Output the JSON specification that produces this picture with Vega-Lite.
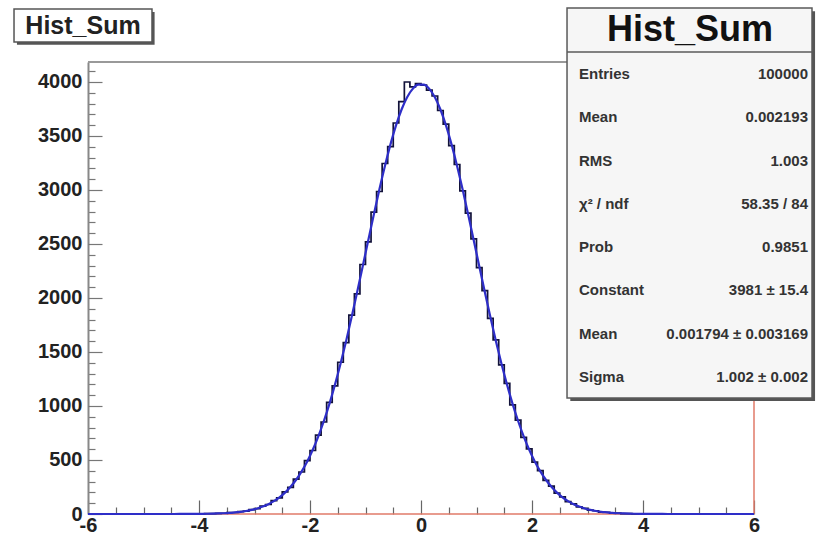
{
  "$schema": "https://vega.github.io/schema/vega-lite/v6.json",
  "width": 666,
  "height": 452,
  "autosize": {"type": "none"},
  "padding": {"left": 88, "top": 62, "right": 73, "bottom": 22},
  "background": "#ffffff",
  "config": {
    "view": {"stroke": null},
    "axis": {"labelFont": "Liberation Sans", "labelFontWeight": "bold", "labelFontSize": 20, "labelColor": "#222222", "grid": false, "title": null}
  },
  "datasets": {
    "one": [{}],
    "hist": [
      {"x": -6, "n": 0, "f": 0},
      {"x": -5.95, "n": 0, "f": 0}, {"x": -5.85, "n": 0, "f": 0}, {"x": -5.75, "n": 0, "f": 0}, {"x": -5.65, "n": 0, "f": 0},
      {"x": -5.55, "n": 0, "f": 0}, {"x": -5.45, "n": 0, "f": 0}, {"x": -5.35, "n": 0, "f": 0}, {"x": -5.25, "n": 0, "f": 0},
      {"x": -5.15, "n": 0, "f": 0}, {"x": -5.05, "n": 0, "f": 0}, {"x": -4.95, "n": 0, "f": 0}, {"x": -4.85, "n": 0, "f": 0},
      {"x": -4.75, "n": 0, "f": 0}, {"x": -4.65, "n": 0, "f": 0}, {"x": -4.55, "n": 0, "f": 0}, {"x": -4.45, "n": 1, "f": 0.2},
      {"x": -4.35, "n": 0, "f": 0.3}, {"x": -4.25, "n": 0, "f": 0.5}, {"x": -4.15, "n": 1, "f": 0.7}, {"x": -4.05, "n": 0, "f": 1.1},
      {"x": -3.95, "n": 2, "f": 1.6}, {"x": -3.85, "n": 3, "f": 2.4}, {"x": -3.75, "n": 4, "f": 3.5}, {"x": -3.65, "n": 6, "f": 5},
      {"x": -3.55, "n": 7, "f": 7}, {"x": -3.45, "n": 12, "f": 10}, {"x": -3.35, "n": 14, "f": 15}, {"x": -3.25, "n": 22, "f": 20},
      {"x": -3.15, "n": 26, "f": 28}, {"x": -3.05, "n": 41, "f": 38}, {"x": -2.95, "n": 49, "f": 51}, {"x": -2.85, "n": 72, "f": 69},
      {"x": -2.75, "n": 88, "f": 91}, {"x": -2.65, "n": 124, "f": 119}, {"x": -2.55, "n": 149, "f": 154}, {"x": -2.45, "n": 205, "f": 198},
      {"x": -2.35, "n": 247, "f": 252}, {"x": -2.25, "n": 322, "f": 317}, {"x": -2.15, "n": 389, "f": 395}, {"x": -2.05, "n": 495, "f": 487},
      {"x": -1.95, "n": 588, "f": 595}, {"x": -1.85, "n": 731, "f": 719}, {"x": -1.75, "n": 852, "f": 861}, {"x": -1.65, "n": 1034, "f": 1020},
      {"x": -1.55, "n": 1187, "f": 1198}, {"x": -1.45, "n": 1405, "f": 1391}, {"x": -1.35, "n": 1586, "f": 1600}, {"x": -1.25, "n": 1841, "f": 1823},
      {"x": -1.15, "n": 2038, "f": 2055}, {"x": -1.05, "n": 2310, "f": 2294}, {"x": -0.95, "n": 2519, "f": 2535}, {"x": -0.85, "n": 2795, "f": 2774},
      {"x": -0.75, "n": 2986, "f": 3005}, {"x": -0.65, "n": 3245, "f": 3223}, {"x": -0.55, "n": 3401, "f": 3422}, {"x": -0.45, "n": 3620, "f": 3598},
      {"x": -0.35, "n": 3818, "f": 3745}, {"x": -0.25, "n": 4000, "f": 3858}, {"x": -0.15, "n": 3955, "f": 3936}, {"x": -0.05, "n": 3985, "f": 3976},
      {"x": 0.05, "n": 3970, "f": 3976}, {"x": 0.15, "n": 3925, "f": 3936}, {"x": 0.25, "n": 3870, "f": 3858}, {"x": 0.35, "n": 3736, "f": 3745},
      {"x": 0.45, "n": 3610, "f": 3598}, {"x": 0.55, "n": 3410, "f": 3422}, {"x": 0.65, "n": 3236, "f": 3223}, {"x": 0.75, "n": 2992, "f": 3005},
      {"x": 0.85, "n": 2785, "f": 2774}, {"x": 0.95, "n": 2548, "f": 2535}, {"x": 1.05, "n": 2281, "f": 2294}, {"x": 1.15, "n": 2068, "f": 2055},
      {"x": 1.25, "n": 1811, "f": 1823}, {"x": 1.35, "n": 1612, "f": 1600}, {"x": 1.45, "n": 1380, "f": 1391}, {"x": 1.55, "n": 1209, "f": 1198},
      {"x": 1.65, "n": 1011, "f": 1020}, {"x": 1.75, "n": 870, "f": 861}, {"x": 1.85, "n": 710, "f": 719}, {"x": 1.95, "n": 603, "f": 595},
      {"x": 2.05, "n": 480, "f": 487}, {"x": 2.15, "n": 401, "f": 395}, {"x": 2.25, "n": 311, "f": 317}, {"x": 2.35, "n": 258, "f": 252},
      {"x": 2.45, "n": 193, "f": 198}, {"x": 2.55, "n": 159, "f": 154}, {"x": 2.65, "n": 115, "f": 119}, {"x": 2.75, "n": 94, "f": 91},
      {"x": 2.85, "n": 66, "f": 69}, {"x": 2.95, "n": 53, "f": 51}, {"x": 3.05, "n": 36, "f": 38}, {"x": 3.15, "n": 30, "f": 28},
      {"x": 3.25, "n": 18, "f": 20}, {"x": 3.35, "n": 16, "f": 15}, {"x": 3.45, "n": 9, "f": 10}, {"x": 3.55, "n": 8, "f": 7},
      {"x": 3.65, "n": 4, "f": 5}, {"x": 3.75, "n": 3, "f": 3.5}, {"x": 3.85, "n": 2, "f": 2.4}, {"x": 3.95, "n": 2, "f": 1.6},
      {"x": 4.05, "n": 1, "f": 1.1}, {"x": 4.15, "n": 0, "f": 0.7}, {"x": 4.25, "n": 1, "f": 0.5}, {"x": 4.35, "n": 0, "f": 0.3},
      {"x": 4.45, "n": 0, "f": 0.2}, {"x": 4.55, "n": 0, "f": 0}, {"x": 4.65, "n": 0, "f": 0}, {"x": 4.75, "n": 0, "f": 0},
      {"x": 4.85, "n": 0, "f": 0}, {"x": 4.95, "n": 0, "f": 0}, {"x": 5.05, "n": 0, "f": 0}, {"x": 5.15, "n": 0, "f": 0},
      {"x": 5.25, "n": 0, "f": 0}, {"x": 5.35, "n": 0, "f": 0}, {"x": 5.45, "n": 0, "f": 0}, {"x": 5.55, "n": 0, "f": 0},
      {"x": 5.65, "n": 0, "f": 0}, {"x": 5.75, "n": 0, "f": 0}, {"x": 5.85, "n": 0, "f": 0}, {"x": 5.95, "n": 0, "f": 0},
      {"x": 6, "n": 0, "f": 0}
    ],
    "stats": [
      {"k": "a", "label": "Entries", "value": "100000"},
      {"k": "b", "label": "Mean", "value": "0.002193"},
      {"k": "c", "label": "RMS", "value": "1.003"},
      {"k": "d", "label": "χ² / ndf", "value": "58.35 / 84"},
      {"k": "e", "label": "Prob", "value": "0.9851"},
      {"k": "f", "label": "Constant", "value": "3981 ± 15.4"},
      {"k": "g", "label": "Mean", "value": "0.001794 ± 0.003169"},
      {"k": "h", "label": "Sigma", "value": "1.002 ± 0.002"}
    ]
  },
  "resolve": {"scale": {"y": "independent"}, "axis": {"x": "independent", "y": "independent"}},
  "layer": [
    {
      "data": {"name": "one"},
      "mark": {"type": "rule", "color": "#e07a68", "strokeWidth": 1.5},
      "encoding": {
        "x": {"datum": -6, "type": "quantitative", "scale": {"domain": [-6, 6], "nice": false, "zero": false},
          "axis": {"orient": "bottom", "values": [-5.5, -5, -4.5, -3.5, -3, -2.5, -1.5, -1, -0.5, 0.5, 1, 1.5, 2.5, 3, 3.5, 4.5, 5, 5.5], "tickSize": -7, "labels": false, "domain": false, "tickColor": "#666666", "tickWidth": 1.2}},
        "x2": {"datum": 6},
        "y": {"datum": 0, "type": "quantitative", "scale": {"domain": [0, 4185], "nice": false},
          "axis": {"orient": "left", "values": [100, 200, 300, 400, 600, 700, 800, 900, 1100, 1200, 1300, 1400, 1600, 1700, 1800, 1900, 2100, 2200, 2300, 2400, 2600, 2700, 2800, 2900, 3100, 3200, 3300, 3400, 3600, 3700, 3800, 3900, 4100], "tickSize": -7, "labels": false, "domain": false, "tickColor": "#777777", "tickWidth": 1.2}}
      }
    },
    {
      "data": {"name": "one"},
      "mark": {"type": "rule", "color": "#e07a68", "strokeWidth": 1.5},
      "encoding": {
        "x": {"datum": 6, "type": "quantitative", "scale": {"domain": [-6, 6], "nice": false, "zero": false}, "axis": null},
        "y": {"datum": 0, "type": "quantitative", "scale": {"domain": [0, 4185], "nice": false}, "axis": null},
        "y2": {"datum": 4185}
      }
    },
    {
      "data": {"name": "one"},
      "mark": {"type": "rule", "color": "#999999", "strokeWidth": 2},
      "encoding": {
        "x": {"datum": -6, "type": "quantitative", "scale": {"domain": [-6, 6], "nice": false, "zero": false}, "axis": null},
        "x2": {"datum": 6},
        "y": {"datum": 4185, "type": "quantitative", "scale": {"domain": [0, 4185], "nice": false}, "axis": null}
      }
    },
    {
      "data": {"name": "hist"},
      "mark": {"type": "line", "interpolate": "step", "color": "#12123a", "strokeWidth": 1.7},
      "encoding": {
        "x": {"field": "x", "type": "quantitative", "scale": {"domain": [-6, 6], "nice": false, "zero": false},
          "axis": {"orient": "bottom", "values": [-6, -4, -2, 0, 2, 4, 6], "labelExpr": "toString(datum.value)", "ticks": false, "domain": false, "labelPadding": 1, "labelFlush": false, "labelOverlap": false}},
        "y": {"field": "n", "type": "quantitative", "scale": {"domain": [0, 4185], "nice": false},
          "axis": {"orient": "left", "values": [0, 500, 1000, 1500, 2000, 2500, 3000, 3500, 4000], "labelExpr": "toString(datum.value)", "ticks": false, "domain": true, "domainColor": "#888888", "domainWidth": 2, "labelPadding": 6, "labelFlush": false, "labelOverlap": false}}
      }
    },
    {
      "data": {"name": "hist"},
      "mark": {"type": "line", "interpolate": "monotone", "color": "#2e2ec8", "strokeWidth": 2.2},
      "encoding": {
        "x": {"field": "x", "type": "quantitative", "scale": {"domain": [-6, 6], "nice": false, "zero": false},
          "axis": {"orient": "bottom", "values": [-6, -4, -2, 0, 2, 4, 6], "tickSize": -14, "labels": false, "domain": false, "tickColor": "#666666", "tickWidth": 1.2}},
        "y": {"field": "f", "type": "quantitative", "scale": {"domain": [0, 4185], "nice": false},
          "axis": {"orient": "left", "values": [0, 500, 1000, 1500, 2000, 2500, 3000, 3500, 4000], "tickSize": -14, "labels": false, "domain": false, "tickColor": "#777777", "tickWidth": 1.2}}
      }
    },
    {
      "data": {"name": "one"},
      "mark": {"type": "rect", "fill": "#555555"},
      "encoding": {
        "x": {"datum": -7.28, "type": "quantitative", "scale": {"domain": [-6, 6], "nice": false, "zero": false}, "axis": null},
        "x2": {"datum": -4.80},
        "y": {"datum": 4648, "type": "quantitative", "scale": {"domain": [0, 4185], "nice": false}, "axis": null},
        "y2": {"datum": 4345}
      }
    },
    {
      "data": {"name": "one"},
      "mark": {"type": "rect", "fill": "#ffffff", "stroke": "#555555", "strokeWidth": 1.5},
      "encoding": {
        "x": {"datum": -7.333, "type": "quantitative", "scale": {"domain": [-6, 6], "nice": false, "zero": false}, "axis": null},
        "x2": {"datum": -4.847},
        "y": {"datum": 4676, "type": "quantitative", "scale": {"domain": [0, 4185], "nice": false}, "axis": null},
        "y2": {"datum": 4370}
      }
    },
    {
      "data": {"name": "one"},
      "mark": {"type": "text", "text": "Hist_Sum", "font": "Liberation Sans", "fontWeight": "bold", "fontSize": 25, "color": "#222222", "align": "center", "baseline": "middle"},
      "encoding": {
        "x": {"datum": -6.09, "type": "quantitative", "scale": {"domain": [-6, 6], "nice": false, "zero": false}, "axis": null},
        "y": {"datum": 4519, "type": "quantitative", "scale": {"domain": [0, 4185], "nice": false}, "axis": null}
      }
    },
    {
      "data": {"name": "one"},
      "mark": {"type": "rect", "fill": "#555555"},
      "encoding": {
        "x": {"datum": 2.69, "type": "quantitative", "scale": {"domain": [-6, 6], "nice": false, "zero": false}, "axis": null},
        "x2": {"datum": 7.10},
        "y": {"datum": 4655, "type": "quantitative", "scale": {"domain": [0, 4185], "nice": false}, "axis": null},
        "y2": {"datum": 1046}
      }
    },
    {
      "data": {"name": "one"},
      "mark": {"type": "rect", "fill": "#f6f6f6", "stroke": "#5a5a5a", "strokeWidth": 1.5},
      "encoding": {
        "x": {"datum": 2.631, "type": "quantitative", "scale": {"domain": [-6, 6], "nice": false, "zero": false}, "axis": null},
        "x2": {"datum": 7.045},
        "y": {"datum": 4685, "type": "quantitative", "scale": {"domain": [0, 4185], "nice": false}, "axis": null},
        "y2": {"datum": 1074}
      }
    },
    {
      "data": {"name": "one"},
      "mark": {"type": "rule", "color": "#5a5a5a", "strokeWidth": 1.5},
      "encoding": {
        "x": {"datum": 2.631, "type": "quantitative", "scale": {"domain": [-6, 6], "nice": false, "zero": false}, "axis": null},
        "x2": {"datum": 7.045},
        "y": {"datum": 4278, "type": "quantitative", "scale": {"domain": [0, 4185], "nice": false}, "axis": null}
      }
    },
    {
      "data": {"name": "one"},
      "mark": {"type": "text", "text": "Hist_Sum", "font": "Liberation Sans", "fontWeight": "bold", "fontSize": 36, "color": "#111111", "align": "center", "baseline": "middle"},
      "encoding": {
        "x": {"datum": 4.847, "type": "quantitative", "scale": {"domain": [-6, 6], "nice": false, "zero": false}, "axis": null},
        "y": {"datum": 4481, "type": "quantitative", "scale": {"domain": [0, 4185], "nice": false}, "axis": null}
      }
    },
    {
      "data": {"name": "stats"},
      "mark": {"type": "text", "font": "Liberation Sans", "fontWeight": "bold", "fontSize": 15, "color": "#333333", "align": "left", "baseline": "middle"},
      "encoding": {
        "x": {"datum": 2.847, "type": "quantitative", "scale": {"domain": [-6, 6], "nice": false, "zero": false}, "axis": null},
        "y": {"field": "k", "type": "ordinal", "scale": {"type": "point", "padding": 0, "domain": ["a", "b", "c", "d", "e", "f", "g", "h"], "range": [12, 315]}, "axis": null},
        "text": {"field": "label"}
      }
    },
    {
      "data": {"name": "stats"},
      "mark": {"type": "text", "font": "Liberation Sans", "fontWeight": "bold", "fontSize": 15, "color": "#333333", "align": "right", "baseline": "middle"},
      "encoding": {
        "x": {"datum": 6.973, "type": "quantitative", "scale": {"domain": [-6, 6], "nice": false, "zero": false}, "axis": null},
        "y": {"field": "k", "type": "ordinal", "scale": {"type": "point", "padding": 0, "domain": ["a", "b", "c", "d", "e", "f", "g", "h"], "range": [12, 315]}, "axis": null},
        "text": {"field": "value"}
      }
    }
  ]
}
